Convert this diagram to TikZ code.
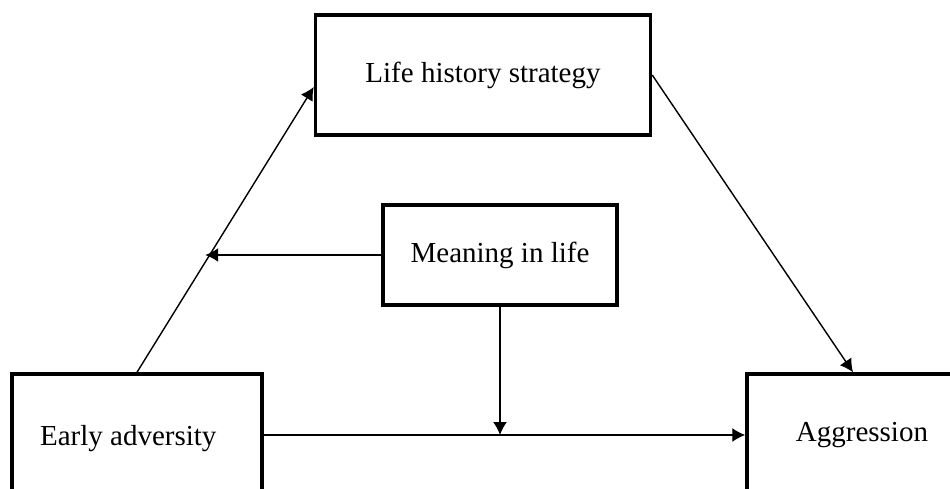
\documentclass[tikz,border=0pt]{standalone}
\usepackage{fontspec}
\setmainfont{Liberation Serif}
\usepackage{tikz}
\usetikzlibrary{arrows.meta,calc}
\tikzset{>={Latex[length=2.6mm,width=2.8mm]}}
\tikzset{%
    varbox/.style={draw,line width=2pt,inner sep=0pt,font=\fontsize{16.5}{20}\selectfont},
    path/.style={->,line width=0.8pt}
}

\begin{document}
\begin{tikzpicture}[x=0.02cm,y=-0.02cm]
\useasboundingbox (0,0) rectangle (950,489);
\clip (0,0) rectangle (950,489);

\node[varbox,minimum width=6.7cm,minimum height=2.4cm] (life) at (483,75) {Life history strategy};
\node[varbox,minimum width=4.68cm,minimum height=2cm] (meaning) at (500,255) {Meaning in life};
\node[varbox,minimum width=5cm,minimum height=2.44cm,text depth=0pt,align=left] (early) at (137,435) {Early adversity\hspace{0.35cm}};
\node[varbox,minimum width=4.6cm,minimum height=2.44cm] (aggr) at (862,435) {Aggression};

\coordinate (lifein) at ([yshift=-0.24cm]life.west);
\coordinate (aggrin) at ([xshift=-0.18cm]aggr.north);
\coordinate (mod) at ($(early.north)!0.42!(lifein)$);

\draw[path] (early.north) -- (lifein);
\draw[path] (life.east) -- (aggrin);
\draw[path] (early.east) -- (aggr.west);
\draw[path] (meaning.west) -- ([xshift=-0.12cm]meaning.west -| mod);
\draw[path] (meaning.south) -- (meaning.south |- early.east);
\end{tikzpicture}
\end{document}
